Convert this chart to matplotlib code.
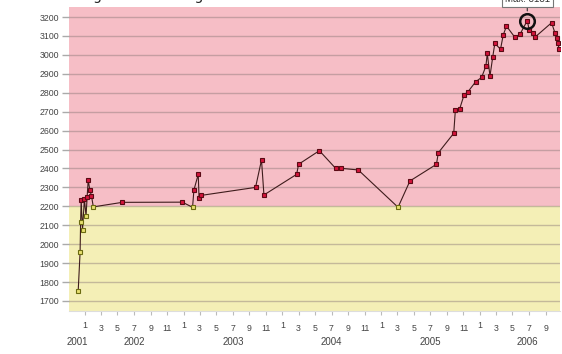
import matplotlib
matplotlib.use('Agg')
import matplotlib.pyplot as plt
import matplotlib.dates as mdates
import matplotlib.transforms as mtrans
import numpy as np
import pandas as pd

# ---------------- data ----------------
dates = ['2001-12-07', '2001-12-14', '2001-12-16', '2001-12-18', '2001-12-23',
         '2001-12-30', '2002-01-05', '2002-01-09', '2002-01-13', '2002-01-19',
         '2002-01-25', '2002-02-01', '2002-05-19', '2002-12-27', '2003-02-03',
         '2003-02-08', '2003-02-24', '2003-02-27', '2003-03-08', '2003-09-24',
         '2003-10-16', '2003-10-25', '2004-02-23', '2004-03-01', '2004-05-17',
         '2004-07-16', '2004-08-05', '2004-10-08', '2005-03-04', '2005-04-17',
         '2005-07-24', '2005-07-31', '2005-09-26', '2005-10-02', '2005-10-18',
         '2005-11-03', '2005-11-18', '2005-12-16', '2006-01-07', '2006-01-23',
         '2006-01-28', '2006-02-07', '2006-02-17', '2006-02-25', '2006-03-18',
         '2006-03-28', '2006-04-09', '2006-05-10', '2006-05-29', '2006-06-25',
         '2006-07-02', '2006-07-15', '2006-07-23', '2006-09-23', '2006-10-05',
         '2006-10-14', '2006-10-16', '2006-10-21']
ratings = [1753, 1957, 2119, 2233, 2077,
           2239, 2148, 2248, 2339, 2286,
           2256, 2197, 2221, 2222, 2195,
           2286, 2369, 2242, 2258, 2300,
           2445, 2260, 2369, 2422, 2494,
           2401, 2401, 2392, 2195, 2334,
           2422, 2483, 2586, 2709, 2715,
           2788, 2806, 2858, 2881, 2941,
           3008, 2888, 2987, 3061, 3030,
           3105, 3152, 3093, 3109, 3181,
           3131, 3117, 3093, 3170, 3117,
           3087, 3061, 3030]
THRESHOLD = 2200
MAX_LABEL = 'Max: 3181'
YEARS = [2001, 2002, 2003, 2004, 2005, 2006]
MONTHS = [1, 3, 5, 7, 9, 11]
Y_TICKS = list(range(1700, 3201, 100))
TITLE_PARTS = ['Rating', 'Ranking']

# ---------------- figure ----------------
W, H = 562, 354
fig = plt.figure(figsize=(W / 100, H / 100), dpi=100)
fig.patch.set_facecolor('white')
ax = fig.add_axes([69 / W, 1 - 311 / H, (560 - 69) / W, (311 - 7) / H])

d = mdates.date2num(pd.to_datetime(dates).to_pydatetime())
r = np.array(ratings)

XMIN = mdates.date2num(pd.Timestamp('2001-11-03'))
XMAX = mdates.date2num(pd.Timestamp('2006-10-24'))
XMAX_EXT = mdates.date2num(pd.Timestamp('2006-12-15'))
YMIN, YMAX = 1647, 3253
ax.set_xlim(XMIN, XMAX)
ax.set_ylim(YMIN, YMAX)

PINK = '#f6bec6'
YELLOW = '#f4efb6'
ax.axhspan(THRESHOLD, YMAX, color=PINK, zorder=0, lw=0)
ax.axhspan(YMIN, THRESHOLD, color=YELLOW, zorder=0, lw=0)

ax.set_yticks(Y_TICKS)
ax.set_yticklabels([str(v) for v in Y_TICKS], fontsize=6.3, color='#444444',
                   family='Liberation Sans')
ax.yaxis.grid(True, color='#8a7878', alpha=0.45, lw=1.0, zorder=1)
ax.set_axisbelow(True)
ax.tick_params(axis='y', length=5, color='#aaaaaa', width=1, pad=2)

for s in ['top', 'right', 'left']:
    ax.spines[s].set_visible(False)
ax.spines['bottom'].set_color('#dddddd')

# line and markers
ax.plot(d, r, color='#3e1c1c', lw=0.8, zorder=3)
above = r > THRESHOLD
ax.plot(d[above], r[above], ls='none', marker='s', ms=3.3, mfc='#d4143c',
        mec='#5a0a14', mew=0.8, zorder=4)
ax.plot(d[~above], r[~above], ls='none', marker='s', ms=3.3, mfc='#e8e070',
        mec='#6b6b10', mew=0.8, zorder=4)

# max highlight
imax = int(np.argmax(r))
ax.plot(d[imax], r[imax], 'o', ms=10.5, mfc='none', mec='#111111', mew=1.8,
        zorder=5, clip_on=False)
ax.annotate(MAX_LABEL, xy=(d[imax], r[imax]), xytext=(0, 22),
            textcoords='offset pixels', ha='center', va='center',
            fontsize=7, color='#333333', family='Liberation Sans',
            annotation_clip=False,
            bbox=dict(boxstyle='square,pad=0.3', fc='white', ec='#777777', lw=0.8),
            arrowprops=dict(arrowstyle='-', color='#333333', lw=0.8,
                            shrinkA=0, shrinkB=7), zorder=6)

# x ticks (months)
tick_pos, tick_lab, tick_m = [], [], []
for y in YEARS:
    for m in MONTHS:
        t = mdates.date2num(pd.Timestamp(year=y, month=m, day=1))
        if XMIN <= t <= XMAX:
            tick_pos.append(t)
            tick_lab.append(str(m))
            tick_m.append(m)
ax.set_xticks(tick_pos)
ax.set_xticklabels(tick_lab, fontsize=6.3, color='#444444', family='Liberation Sans')
ax.tick_params(axis='x', length=3, color='#bbbbbb', width=0.8, pad=6.5)
for tk, m in zip(ax.xaxis.get_major_ticks(), tick_m):
    if m == 1:
        tk.tick1line.set_markersize(7)
        tk.set_pad(4.5)

# year labels
trans = mtrans.blended_transform_factory(ax.transData, ax.transAxes)
for y in YEARS:
    a = max(mdates.date2num(pd.Timestamp(year=y, month=1, day=1)), XMIN)
    b = min(mdates.date2num(pd.Timestamp(year=y, month=12, day=31)), XMAX_EXT)
    ax.text((a + b) / 2, -31 / 304, str(y), transform=trans, ha='center',
            va='center', fontsize=7, color='#444444', family='Liberation Sans',
            clip_on=False)

# cropped title (only descenders visible, as in the reference)
fig.text(103 / W, 1.0, TITLE_PARTS[0], ha='right', va='baseline', fontsize=10,
         color='#222222')
fig.text(204 / W, 1.0, TITLE_PARTS[1], ha='right', va='baseline', fontsize=10,
         color='#222222')

fig.savefig('out.png', dpi=100)
